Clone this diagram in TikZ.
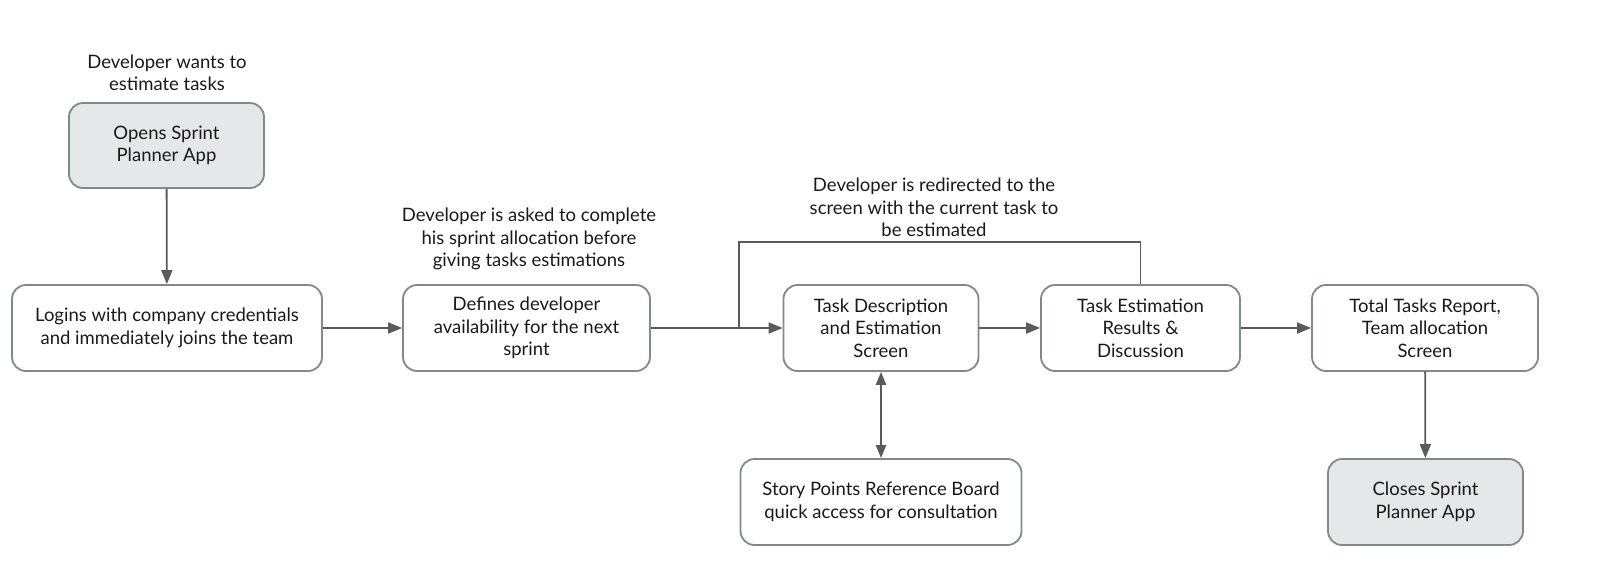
\documentclass[tikz,border=0pt]{standalone}
\usepackage{fontspec}
\setmainfont{Lato}
\usetikzlibrary{arrows.meta}
\definecolor{boxborder}{HTML}{808A88}
\definecolor{boxfill}{HTML}{E5E8E8}
\definecolor{arrowcol}{HTML}{5A5A5A}
\tikzset{
  box/.style={draw=boxborder, line width=1.8pt, rounded corners=14pt, align=center,
    inner sep=0pt, font=\fontsize{18.5}{22.5}\selectfont, text=black!90},
  endbox/.style={box, fill=boxfill},
  lbl/.style={align=center, font=\fontsize{18.5}{22.5}\selectfont, text=black!90},
  conn/.style={draw=arrowcol, line width=1.8pt, -{Triangle[length=14pt,width=11pt]}},
  plain/.style={draw=arrowcol, line width=1.8pt}
}
\begin{document}
\begin{tikzpicture}[x=1pt,y=-1pt]
\useasboundingbox (0,0) rectangle (1600,574);
\node[endbox, minimum width=195pt, minimum height=85pt] (open) at (166.5,145.5) {Opens Sprint\\Planner App};
\node[lbl] (lopen) at (167,73) {Developer wants to\\estimate tasks};
\node[box, minimum width=310pt, minimum height=86pt] (login) at (167,328) {Logins with company credentials\\and immediately joins the team};
\node[box, minimum width=247pt, minimum height=86pt] (define) at (526.5,328) {Defines developer\\availability for the next\\sprint};
\node[lbl] (ldefine) at (529,239) {Developer is asked to complete\\his sprint allocation before\\giving tasks estimations};
\node[box, minimum width=195pt, minimum height=86pt] (taskd) at (881,328) {Task Description\\and Estimation\\Screen};
\node[box, minimum width=199pt, minimum height=86pt] (taske) at (1140.5,328) {Task Estimation\\Results \&\\Discussion};
\node[box, minimum width=226pt, minimum height=86pt] (total) at (1425,328) {Total Tasks Report,\\Team allocation\\Screen};
\node[box, minimum width=281pt, minimum height=86pt] (story) at (881,502) {Story Points Reference Board\\quick access for consultation};
\node[endbox, minimum width=195pt, minimum height=86pt] (close) at (1425.5,502) {Closes Sprint\\Planner App};
\node[lbl] (lredir) at (934,207.5) {Developer is redirected to the\\screen with the current task to\\be estimated};
\coordinate (join) at (739,328);
\coordinate (loopL) at (739,242);
\coordinate (loopR) at (1140.5,242);

\draw[conn] (open) -- (login);
\draw[conn] (login) -- (define);
\draw[conn] (define) -- (taskd);
\draw[conn] (taskd) -- (taske);
\draw[conn] (taske) -- (total);
\draw[conn] (total) -- (close);
\draw[conn, line width=2.2pt, {Triangle[length=13pt,width=10pt]}-{Triangle[length=13pt,width=10pt]}] (taskd) -- (story);
\draw[plain] (taske.north) -- (loopR) -- (loopL) -- (join);
\end{tikzpicture}
\end{document}
